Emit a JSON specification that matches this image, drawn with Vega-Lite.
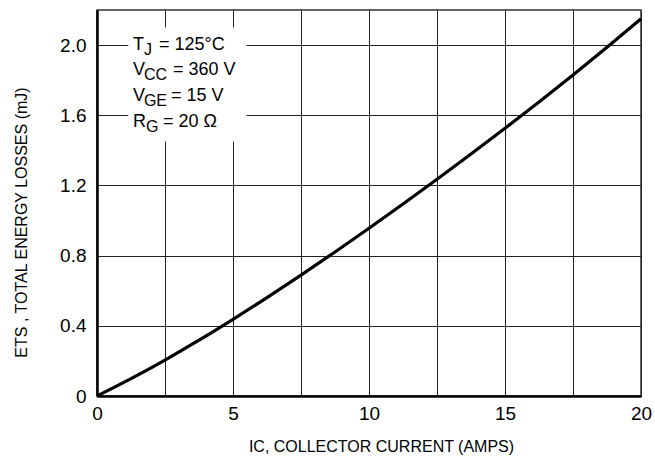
{
  "$schema": "https://vega.github.io/schema/vega-lite/v6.json",
  "autosize": {"type": "none"},
  "padding": {"left": 97, "top": 10, "right": 14, "bottom": 70},
  "width": 544,
  "height": 386,
  "background": "white",
  "config": {
    "font": "Liberation Sans, Arial, sans-serif",
    "view": {"stroke": "#333", "strokeWidth": 1.5},
    "axis": {
      "gridColor": "#222",
      "gridOpacity": 1,
      "gridWidth": 1,
      "domainColor": "#000",
      "domainWidth": 2.5,
      "ticks": false,
      "labelFlush": false,
      "labelFont": "Liberation Sans, Arial, sans-serif",
      "titleFont": "Liberation Sans, Arial, sans-serif",
      "labelColor": "#000",
      "titleColor": "#000",
      "labelFontSize": 19,
      "titleFontSize": 16,
      "titleFontWeight": "normal"
    }
  },
  "layer": [
    {
      "data": {
        "values": [
          {"ic": 0, "ets": 0},
          {"ic": 1.25, "ets": 0.099},
          {"ic": 2.5, "ets": 0.205},
          {"ic": 3.75, "ets": 0.318},
          {"ic": 5, "ets": 0.437},
          {"ic": 6.25, "ets": 0.561},
          {"ic": 7.5, "ets": 0.689},
          {"ic": 8.75, "ets": 0.821},
          {"ic": 10, "ets": 0.956},
          {"ic": 11.25, "ets": 1.094},
          {"ic": 12.5, "ets": 1.235},
          {"ic": 13.75, "ets": 1.379},
          {"ic": 15, "ets": 1.526},
          {"ic": 16.25, "ets": 1.676},
          {"ic": 17.5, "ets": 1.83},
          {"ic": 18.75, "ets": 1.988},
          {"ic": 20, "ets": 2.15}
        ]
      },
      "mark": {"type": "line", "color": "#000", "strokeWidth": 3.2, "interpolate": "monotone"},
      "encoding": {
        "x": {
          "field": "ic", "type": "quantitative",
          "scale": {"domain": [0, 20], "nice": false},
          "axis": {
            "values": [0, 2.5, 5, 7.5, 10, 12.5, 15, 17.5, 20],
            "labelExpr": "datum.value % 5 == 0 ? format(datum.value, 'd') : ''",
            "labelPadding": 8,
            "title": "IC, COLLECTOR CURRENT (AMPS)",
            "titleX": 284,
            "titleY": 50,
            "titleBaseline": "middle"
          }
        },
        "y": {
          "field": "ets", "type": "quantitative",
          "scale": {"domain": [0, 2.2], "nice": false},
          "axis": {
            "values": [0, 0.2, 0.4, 0.6, 0.8, 1.0, 1.2, 1.4, 1.6, 1.8, 2.0, 2.2],
            "labelExpr": "datum.value == 0 ? '0' : (round(datum.value * 10) % 4 == 0 ? format(datum.value, '.1f') : '')",
            "labelPadding": 11,
            "title": "ETS , TOTAL ENERGY LOSSES (mJ)",
            "titleX": -76,
            "titleY": 212,
            "titleBaseline": "middle",
            "titleAngle": -90
          }
        }
      }
    },
    {
      "data": {"values": [{"item": "box"}]},
      "mark": {"type": "rect", "fill": "white", "stroke": null},
      "encoding": {
        "x": {"datum": 1.15, "type": "quantitative"},
        "x2": {"datum": 5.5},
        "y": {"datum": 1.45, "type": "quantitative"},
        "y2": {"datum": 2.1}
      }
    },
    {
      "data": {
        "values": [
          {"row": 1, "main": "T", "sub": "J", "rest": "= 125°C", "ty": 1.973},
          {"row": 2, "main": "V", "sub": "CC", "rest": "= 360 V", "ty": 1.829},
          {"row": 3, "main": "V", "sub": "GE", "rest": "= 15 V", "ty": 1.682},
          {"row": 4, "main": "R", "sub": "G", "rest": "= 20 Ω", "ty": 1.531}
        ]
      },
      "layer": [
        {
          "mark": {"type": "text", "align": "left", "baseline": "alphabetic", "fontSize": 18, "color": "#000"},
          "encoding": {
            "x": {"datum": 1.32, "type": "quantitative"},
            "y": {"field": "ty", "type": "quantitative"},
            "text": {"field": "main"}
          }
        },
        {
          "transform": [{"filter": "datum.row <= 3"}],
          "mark": {"type": "text", "align": "left", "baseline": "alphabetic", "fontSize": 16, "dx": 11, "dy": 5, "color": "#000"},
          "encoding": {
            "x": {"datum": 1.32, "type": "quantitative"},
            "y": {"field": "ty", "type": "quantitative"},
            "text": {"field": "sub"}
          }
        },
        {
          "transform": [{"filter": "datum.row == 4"}],
          "mark": {"type": "text", "align": "left", "baseline": "alphabetic", "fontSize": 16, "dx": 13, "dy": 5, "color": "#000"},
          "encoding": {
            "x": {"datum": 1.32, "type": "quantitative"},
            "y": {"field": "ty", "type": "quantitative"},
            "text": {"field": "sub"}
          }
        },
        {
          "transform": [{"filter": "datum.row == 1"}],
          "mark": {"type": "text", "align": "left", "baseline": "alphabetic", "fontSize": 18, "dx": 26, "color": "#000"},
          "encoding": {
            "x": {"datum": 1.32, "type": "quantitative"},
            "y": {"field": "ty", "type": "quantitative"},
            "text": {"field": "rest"}
          }
        },
        {
          "transform": [{"filter": "datum.row == 4"}],
          "mark": {"type": "text", "align": "left", "baseline": "alphabetic", "fontSize": 18, "dx": 30, "color": "#000"},
          "encoding": {
            "x": {"datum": 1.32, "type": "quantitative"},
            "y": {"field": "ty", "type": "quantitative"},
            "text": {"field": "rest"}
          }
        },
        {
          "transform": [{"filter": "datum.row == 2"}],
          "mark": {"type": "text", "align": "left", "baseline": "alphabetic", "fontSize": 18, "dx": 40, "color": "#000"},
          "encoding": {
            "x": {"datum": 1.32, "type": "quantitative"},
            "y": {"field": "ty", "type": "quantitative"},
            "text": {"field": "rest"}
          }
        },
        {
          "transform": [{"filter": "datum.row == 3"}],
          "mark": {"type": "text", "align": "left", "baseline": "alphabetic", "fontSize": 18, "dx": 38, "color": "#000"},
          "encoding": {
            "x": {"datum": 1.32, "type": "quantitative"},
            "y": {"field": "ty", "type": "quantitative"},
            "text": {"field": "rest"}
          }
        }
      ]
    }
  ]
}
